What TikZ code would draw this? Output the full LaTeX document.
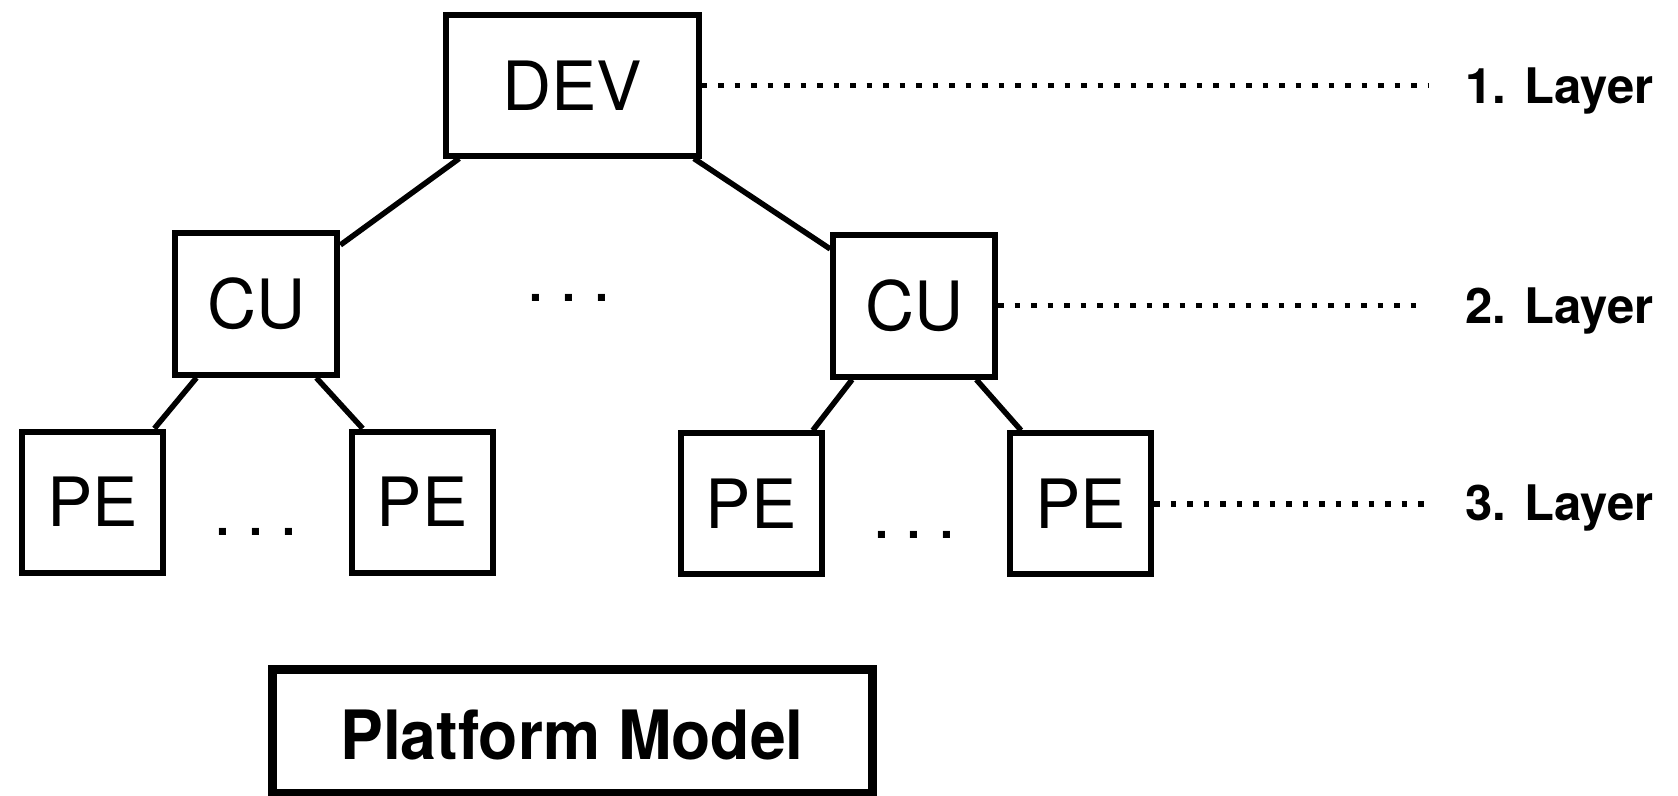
\documentclass[tikz,border=0pt]{standalone}
\usepackage{fontspec}
\usepackage{graphicx}
\setmainfont{TeX Gyre Heros}
\begin{document}
\begin{tikzpicture}[x=1pt,y=-1pt,
  box/.style={draw, line width=6pt, inner sep=0pt, font=\fontsize{68}{80}\selectfont},
  cubox/.style={box, minimum width=162pt, minimum height=142pt},
  pebox/.style={box, minimum width=141pt, minimum height=141pt},
  link/.style={line width=5.5pt},
  guide/.style={line width=5.5pt, dash pattern=on 5.5pt off 11pt},
  layer/.style={anchor=base west, inner sep=0pt, font=\fontsize{49}{58}\selectfont\bfseries},
  ellip/.style={inner sep=0pt, font=\fontsize{68}{70}\selectfont}]
\useasboundingbox (0,0) rectangle (1678,795);
% boxes
\node[box, minimum width=253pt, minimum height=140.5pt] (dev) at (572,85.25) {DEV};
\node[cubox] (cu1) at (256.4,303.8) {CU};
\node[cubox] (cu2) at (914.2,305.6) {CU};
\node[pebox] (pe1) at (92.7,502) {PE};
\node[pebox] (pe2) at (422.2,502) {PE};
\node[pebox] (pe3) at (751.1,503.9) {PE};
\node[pebox] (pe4) at (1080.6,503.9) {PE};
% ellipses
\node[ellip] (d1) at (256,532) {.\hspace{14pt}.\hspace{14pt}.};
\node[ellip] (d2) at (569,298) {.\hspace{14pt}.\hspace{14pt}.};
\node[ellip] (d3) at (914.5,535) {.\hspace{14pt}.\hspace{14pt}.};
% platform model
\node[draw, line width=9pt, minimum width=600pt, minimum height=124pt, inner sep=0pt,
      text height=56pt, text depth=0pt, font=\fontsize{68}{80}\selectfont\bfseries]
      (pm) at (572,731) {\scalebox{0.945}[1]{Platform Model}};
% links
\draw[link] (dev.213.3) -- (cu1.35.5);
\draw[link] (dev.-31.2) -- (cu2.146.4);
\draw[link] (cu1.231.1) -- (pe1.50.9);
\draw[link] (cu1.-51.1) -- (pe2.129.8);
\draw[link] (cu2.230.8) -- (pe3.50.9);
\draw[link] (cu2.-50.1) -- (pe4.129.3);
% layer labels
\node[layer] (l1) at (1465,103.3) {1. Layer};
\node[layer] (l2) at (1465,323.3) {2. Layer};
\node[layer] (l3) at (1465,520) {3. Layer};
\coordinate (g1) at (1428,0);
\coordinate (g2) at (1420,0);
\coordinate (g3) at (1429,0);
\draw[guide] (dev.east) -- (dev.east -| g1);
\draw[guide] (cu2.east) -- (cu2.east -| g2);
\draw[guide] (pe4.east) -- (pe4.east -| g3);
\end{tikzpicture}
\end{document}
